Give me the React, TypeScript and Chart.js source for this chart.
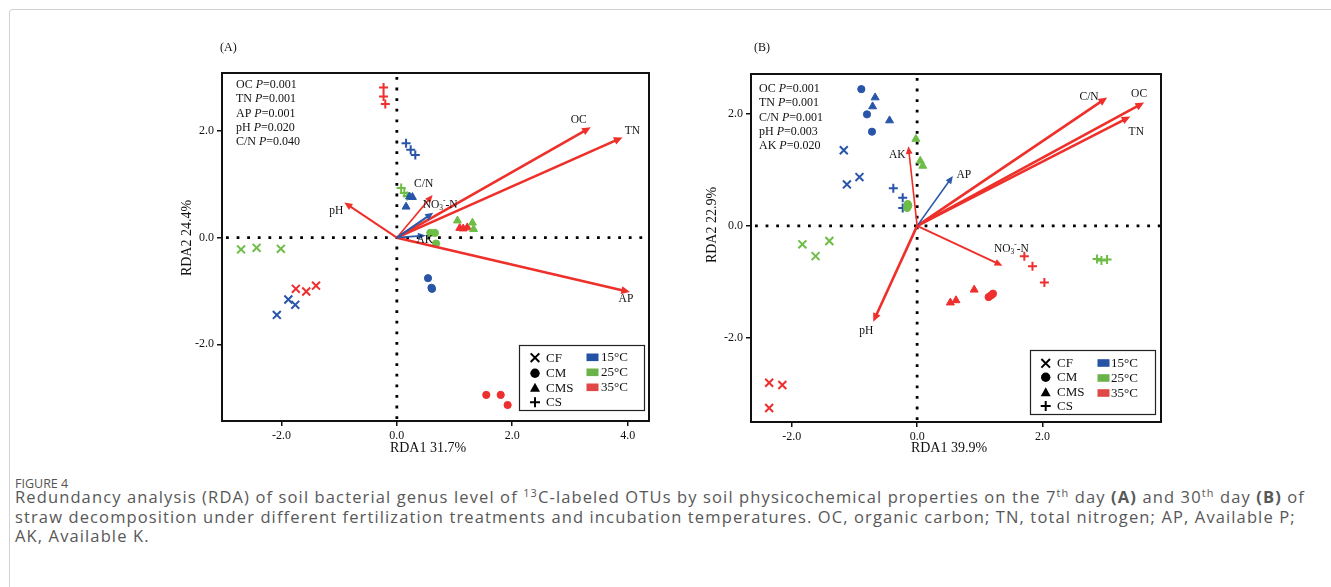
import React, { useEffect, useLayoutEffect, useRef, useState } from 'react';
import { Chart, registerables } from 'chart.js';
Chart.register(...registerables);

type Pt = [number, number];

// ---------- Panel A (7th day) sample scores ----------
const A_CF_15: Pt[] = [[-1.88, -1.16], [-1.76, -1.26], [-2.08, -1.45]];
const A_CF_25: Pt[] = [[-2.70, -0.22], [-2.43, -0.19], [-2.01, -0.21]];
const A_CF_35: Pt[] = [[-1.75, -0.96], [-1.57, -1.01], [-1.40, -0.90]];
const A_CM_15: Pt[] = [[0.54, -0.76], [0.61, -0.96], [0.60, -0.94]];
const A_CM_25: Pt[] = [[0.58, 0.09], [0.66, 0.09], [0.68, -0.11]];
const A_CM_35: Pt[] = [[1.55, -2.95], [1.80, -2.95], [1.92, -3.14]];
const A_CMS_15: Pt[] = [[0.22, 0.77], [0.27, 0.76], [0.16, 0.58]];
const A_CMS_25: Pt[] = [[1.05, 0.32], [1.31, 0.28], [1.33, 0.16]];
const A_CMS_35: Pt[] = [[1.09, 0.18], [1.22, 0.19], [1.15, 0.17]];
const A_CS_15: Pt[] = [[0.16, 1.77], [0.24, 1.65], [0.32, 1.55]];
const A_CS_25: Pt[] = [[0.075, 0.93], [0.13, 0.84], [0.18, 0.78]];
const A_CS_35: Pt[] = [[-0.23, 2.82], [-0.23, 2.65], [-0.20, 2.51]];

// ---------- Panel A environmental arrows ----------
const A_ARROW_NAMES = ['OC', 'TN', 'AP', 'pH', 'C/N', 'NO3-N', 'AK'];
const A_ARROW_X = [3.36, 3.91, 4.04, -0.91, 0.62, 0.63, 0.50];
const A_ARROW_Y = [2.07, 1.88, -1.02, 0.66, 0.80, 0.47, 0.04];
const A_P_NAMES = ['OC', 'TN', 'AP', 'pH', 'C/N'];
const A_P_VALUES = ['0.001', '0.001', '0.001', '0.020', '0.040'];
const A_X_TICKS = [-2, 0, 2, 4];
const A_Y_TICKS = [-2, 0, 2];

// ---------- Panel B (30th day) sample scores ----------
const B_CF_15: Pt[] = [[-1.17, 1.35], [-1.12, 0.74], [-0.92, 0.87]];
const B_CF_25: Pt[] = [[-1.83, -0.33], [-1.62, -0.54], [-1.40, -0.27]];
const B_CF_35: Pt[] = [[-2.36, -2.80], [-2.15, -2.84], [-2.36, -3.25]];
const B_CM_15: Pt[] = [[-0.89, 2.44], [-0.80, 1.99], [-0.72, 1.68]];
const B_CM_25: Pt[] = [[-0.15, 0.39], [-0.16, 0.32], [-0.14, 0.36]];
const B_CM_35: Pt[] = [[1.14, -1.27], [1.21, -1.21], [1.18, -1.24]];
const B_CMS_15: Pt[] = [[-0.67, 2.29], [-0.71, 2.13], [-0.44, 1.88]];
const B_CMS_25: Pt[] = [[-0.02, 1.55], [0.05, 1.16], [0.09, 1.07]];
const B_CMS_35: Pt[] = [[0.53, -1.37], [0.62, -1.33], [0.91, -1.14]];
const B_CS_15: Pt[] = [[-0.38, 0.67], [-0.23, 0.50], [-0.23, 0.32]];
const B_CS_25: Pt[] = [[2.87, -0.59], [2.94, -0.62], [3.03, -0.60]];
const B_CS_35: Pt[] = [[1.71, -0.54], [1.84, -0.72], [2.03, -1.01]];

// ---------- Panel B environmental arrows ----------
const B_ARROW_NAMES = ['C/N', 'OC', 'TN', 'AP', 'AK', 'NO3-N', 'pH'];
const B_ARROW_X = [3.03, 3.62, 3.40, 0.57, -0.14, 1.36, -0.70];
const B_ARROW_Y = [2.29, 2.20, 1.95, 0.89, 1.42, -0.71, -1.71];
const B_P_NAMES = ['OC', 'TN', 'C/N', 'pH', 'AK'];
const B_P_VALUES = ['0.001', '0.001', '0.001', '0.003', '0.020'];
const B_X_TICKS = [-2, 0, 2];
const B_Y_TICKS = [-2, 0, 2];

const TREATMENTS = ['CF', 'CM', 'CMS', 'CS'];
const TEMPS = ['15°C', '25°C', '35°C'];

// ---------- styles ----------
const SERIF = '"Liberation Serif", "Times New Roman", serif';
const TEMP_COLORS = ['#2855a8', '#6dbd46', '#ef2e2e'];
const PATCH_COLORS = ['#2452a5', '#6ab34a', '#e04848'];
const RED = '#ee2f2a';
const BLUE = '#2b58a8';
const SHAPE_STYLE: Record<string, { style: string; r: number; bw: number }> = {
  CF: { style: 'crossRot', r: 5.6, bw: 2 },
  CM: { style: 'circle', r: 3.6, bw: 1 },
  CMS: { style: 'triangle', r: 4.6, bw: 1 },
  CS: { style: 'cross', r: 4.5, bw: 2 },
};

const A_GROUPS: Pt[][][] = [
  [A_CF_15, A_CF_25, A_CF_35],
  [A_CM_15, A_CM_25, A_CM_35],
  [A_CMS_15, A_CMS_25, A_CMS_35],
  [A_CS_15, A_CS_25, A_CS_35],
];
const B_GROUPS: Pt[][][] = [
  [B_CF_15, B_CF_25, B_CF_35],
  [B_CM_15, B_CM_25, B_CM_35],
  [B_CMS_15, B_CMS_25, B_CMS_35],
  [B_CS_15, B_CS_25, B_CS_35],
];

type PanelCfg = {
  letter: string;
  left: number; top: number; w: number; h: number;
  yAxisW: number; xAxisH: number; padTop: number; padRight: number;
  xMin: number; xMax: number; yMin: number; yMax: number;
  xTicks: number[]; yTicks: number[];
  groups: Pt[][][];
  arrowNames: string[]; arrowX: number[]; arrowY: number[];
  arrowColors: string[]; arrowWidths: number[]; labelOffsets: [number, number][];
  pNames: string[]; pValues: string[]; pPos: [number, number];
  xTitle: string; yTitle: string; xTitlePos: [number, number]; yTitlePos: [number, number];
  letterPos: [number, number];
  legendBox: [number, number, number, number];
  legendRows: number[]; legendSymX: number; legendTextX: number;
  patchRows: number[]; patchX: [number, number]; patchTextX: number;
};

const PANEL_A: PanelCfg = {
  letter: '(A)',
  left: 170, top: 30, w: 490, h: 440,
  yAxisW: 52, xAxisH: 49, padTop: 43, padRight: 11,
  xMin: -3.03, xMax: 4.37, yMin: -3.44, yMax: 3.09,
  xTicks: A_X_TICKS, yTicks: A_Y_TICKS,
  groups: A_GROUPS,
  arrowNames: A_ARROW_NAMES, arrowX: A_ARROW_X, arrowY: A_ARROW_Y,
  arrowColors: [RED, RED, RED, RED, RED, BLUE, BLUE],
  arrowWidths: [2.6, 2.6, 2.6, 2, 1.6, 2, 1.8],
  labelOffsets: [[-12, -7], [10, -6], [-4, 7], [-8, 8], [-9, -11], [7, -8], [-1, 4]],
  pNames: A_P_NAMES, pValues: A_P_VALUES, pPos: [236, 85],
  xTitle: 'RDA1 31.7%', yTitle: 'RDA2 24.4%', xTitlePos: [428, 448], yTitlePos: [187, 238],
  letterPos: [220, 48],
  legendBox: [519.5, 345.5, 644.5, 410.5],
  legendRows: [357.7, 373.2, 387.7, 402.3], legendSymX: 535, legendTextX: 546,
  patchRows: [357.3, 372.3, 387.3], patchX: [586.5, 598.5], patchTextX: 601,
};

const PANEL_B: PanelCfg = {
  letter: '(B)',
  left: 700, top: 30, w: 475, h: 440,
  yAxisW: 51, xAxisH: 48, padTop: 44, padRight: 14,
  xMin: -2.65, xMax: 3.89, yMin: -3.5, yMax: 2.71,
  xTicks: B_X_TICKS, yTicks: B_Y_TICKS,
  groups: B_GROUPS,
  arrowNames: B_ARROW_NAMES, arrowX: B_ARROW_X, arrowY: B_ARROW_Y,
  arrowColors: [RED, RED, RED, BLUE, RED, RED, RED],
  arrowWidths: [2.6, 2.6, 2.6, 1.6, 1.6, 1.8, 2.6],
  labelOffsets: [[-18, -1], [-5, -9], [6, 15], [11, -1], [-11, 9], [9, -17], [-7, 9]],
  pNames: B_P_NAMES, pValues: B_P_VALUES, pPos: [759, 89],
  xTitle: 'RDA1 39.9%', yTitle: 'RDA2 22.9%', xTitlePos: [949, 448], yTitlePos: [712, 225],
  letterPos: [754, 48],
  legendBox: [1030.5, 350.5, 1155.5, 414.5],
  legendRows: [363.3, 377.3, 392.3, 406], legendSymX: 1045.7, legendTextX: 1057,
  patchRows: [363, 378, 393], patchX: [1097.5, 1109.5], patchTextX: 1111,
};

function drawArrow(ctx: CanvasRenderingContext2D, x1: number, y1: number, x2: number, y2: number, color: string, lw: number) {
  const ang = Math.atan2(y2 - y1, x2 - x1);
  const hl = 6 + lw;
  const hw = 2.4 + lw * 0.6;
  const c = Math.cos(ang), s = Math.sin(ang);
  ctx.strokeStyle = color;
  ctx.lineWidth = lw;
  ctx.lineCap = 'butt';
  ctx.beginPath();
  ctx.moveTo(x1, y1);
  ctx.lineTo(x2 - c * hl * 0.7, y2 - s * hl * 0.7);
  ctx.stroke();
  ctx.fillStyle = color;
  ctx.beginPath();
  ctx.moveTo(x2, y2);
  ctx.lineTo(x2 - c * hl + s * hw, y2 - s * hl - c * hw);
  ctx.lineTo(x2 - c * hl - s * hw, y2 - s * hl + c * hw);
  ctx.closePath();
  ctx.fill();
}

function drawLabel(ctx: CanvasRenderingContext2D, text: string, cx: number, cy: number) {
  const fs = 11.5;
  ctx.fillStyle = '#111';
  ctx.textBaseline = 'middle';
  ctx.textAlign = 'left';
  if (text === 'NO3-N') {
    const big = `${fs}px ${SERIF}`;
    const small = `${fs * 0.65}px ${SERIF}`;
    ctx.font = big; const w1 = ctx.measureText('NO').width; const w4 = ctx.measureText('-N').width;
    ctx.font = small; const w2 = ctx.measureText('3').width; const w3 = ctx.measureText('-').width;
    let x = cx - (w1 + w2 + w3 + w4) / 2;
    ctx.font = big; ctx.fillText('NO', x, cy); x += w1;
    ctx.font = small; ctx.fillText('3', x, cy + 3.5); x += w2;
    ctx.fillText('-', x, cy - 4); x += w3;
    ctx.font = big; ctx.fillText('-N', x, cy);
    return;
  }
  ctx.font = `${fs}px ${SERIF}`;
  ctx.textAlign = 'center';
  ctx.fillText(text, cx, cy);
}

function drawSymbol(ctx: CanvasRenderingContext2D, kind: string, x: number, y: number) {
  ctx.fillStyle = '#000';
  ctx.strokeStyle = '#000';
  ctx.lineWidth = 2;
  ctx.beginPath();
  if (kind === 'CF') {
    const d = 4.3;
    ctx.moveTo(x - d, y - d); ctx.lineTo(x + d, y + d);
    ctx.moveTo(x - d, y + d); ctx.lineTo(x + d, y - d);
    ctx.stroke();
  } else if (kind === 'CM') {
    ctx.arc(x, y, 4.7, 0, Math.PI * 2); ctx.fill();
  } else if (kind === 'CMS') {
    ctx.moveTo(x, y - 5); ctx.lineTo(x + 5, y + 4); ctx.lineTo(x - 5, y + 4); ctx.closePath(); ctx.fill();
  } else {
    const d = 5;
    ctx.moveTo(x - d, y); ctx.lineTo(x + d, y);
    ctx.moveTo(x, y - d); ctx.lineTo(x, y + d);
    ctx.stroke();
  }
}

function makeOverlay(cfg: PanelCfg) {
  const ox = cfg.left, oy = cfg.top;
  return {
    id: 'rdaOverlay',
    beforeDatasetsDraw(chart: any) {
      const { ctx, chartArea: ca, scales } = chart;
      const x0 = scales.x.getPixelForValue(0);
      const y0 = scales.y.getPixelForValue(0);
      ctx.save();
      ctx.strokeStyle = '#000';
      ctx.lineWidth = 2.8;
      ctx.setLineDash([2.8, 7.8]);
      ctx.beginPath();
      ctx.moveTo(ca.left + 4, y0); ctx.lineTo(ca.right, y0);
      ctx.moveTo(x0, ca.top + 4); ctx.lineTo(x0, ca.bottom);
      ctx.stroke();
      ctx.restore();
    },
    afterDatasetsDraw(chart: any) {
      const { ctx, chartArea: ca, scales } = chart;
      const xs = scales.x, ys = scales.y;
      const x0 = xs.getPixelForValue(0), y0 = ys.getPixelForValue(0);
      ctx.save();
      cfg.arrowNames.forEach((name, i) => {
        const tx = xs.getPixelForValue(cfg.arrowX[i]);
        const ty = ys.getPixelForValue(cfg.arrowY[i]);
        drawArrow(ctx, x0, y0, tx, ty, cfg.arrowColors[i], cfg.arrowWidths[i]);
      });
      cfg.arrowNames.forEach((name, i) => {
        const tx = xs.getPixelForValue(cfg.arrowX[i]);
        const ty = ys.getPixelForValue(cfg.arrowY[i]);
        const [dx, dy] = cfg.labelOffsets[i];
        drawLabel(ctx, name, tx + dx, ty + dy);
      });
      ctx.strokeStyle = '#111';
      ctx.lineWidth = 2;
      ctx.strokeRect(ca.left, ca.top, ca.right - ca.left, ca.bottom - ca.top);
      ctx.fillStyle = '#111';
      ctx.textBaseline = 'middle';
      ctx.textAlign = 'left';
      cfg.pNames.forEach((n, i) => {
        let x = cfg.pPos[0] - ox;
        const y = cfg.pPos[1] - oy + i * 14.3;
        ctx.font = `12px ${SERIF}`;
        ctx.fillText(n + ' ', x, y); x += ctx.measureText(n + ' ').width;
        ctx.font = `italic 12px ${SERIF}`;
        ctx.fillText('P', x, y); x += ctx.measureText('P').width;
        ctx.font = `12px ${SERIF}`;
        ctx.fillText('=' + cfg.pValues[i], x, y);
      });
      ctx.font = `12px ${SERIF}`;
      ctx.fillText(cfg.letter, cfg.letterPos[0] - ox, cfg.letterPos[1] - oy);
      ctx.font = `14px ${SERIF}`;
      ctx.textAlign = 'center';
      ctx.fillText(cfg.xTitle, cfg.xTitlePos[0] - ox, cfg.xTitlePos[1] - oy);
      ctx.save();
      ctx.translate(cfg.yTitlePos[0] - ox, cfg.yTitlePos[1] - oy);
      ctx.rotate(-Math.PI / 2);
      ctx.fillText(cfg.yTitle, 0, 0);
      ctx.restore();
      const [lx1, ly1, lx2, ly2] = cfg.legendBox;
      ctx.fillStyle = '#fff';
      ctx.fillRect(lx1 - ox, ly1 - oy, lx2 - lx1, ly2 - ly1);
      ctx.strokeStyle = '#222';
      ctx.lineWidth = 1.2;
      ctx.strokeRect(lx1 - ox, ly1 - oy, lx2 - lx1, ly2 - ly1);
      ctx.textAlign = 'left';
      ctx.font = `13px ${SERIF}`;
      TREATMENTS.forEach((t, i) => {
        drawSymbol(ctx, t, cfg.legendSymX - ox, cfg.legendRows[i] - oy);
        ctx.fillStyle = '#111';
        ctx.fillText(t, cfg.legendTextX - ox, cfg.legendRows[i] - oy + 0.5);
      });
      TEMPS.forEach((t, i) => {
        ctx.fillStyle = PATCH_COLORS[i];
        ctx.fillRect(cfg.patchX[0] - ox, cfg.patchRows[i] - oy - 3.8, cfg.patchX[1] - cfg.patchX[0], 7.6);
        ctx.fillStyle = '#111';
        ctx.fillText(t, cfg.patchTextX - ox, cfg.patchRows[i] - oy + 0.5);
      });
      ctx.restore();
    },
  };
}

function Panel({ cfg }: { cfg: PanelCfg }) {
  const ref = useRef<HTMLCanvasElement>(null);
  useEffect(() => {
    const datasets: any[] = [];
    cfg.groups.forEach((byTemp, ti) => {
      const sh = SHAPE_STYLE[TREATMENTS[ti]];
      byTemp.forEach((pts, ci) => {
        datasets.push({
          label: `${TREATMENTS[ti]} ${TEMPS[ci]}`,
          data: pts.map(([x, y]) => ({ x, y })),
          pointStyle: sh.style,
          pointRadius: sh.r,
          pointHoverRadius: sh.r,
          pointBorderWidth: sh.bw,
          backgroundColor: TEMP_COLORS[ci],
          borderColor: TEMP_COLORS[ci],
          showLine: false,
        });
      });
    });
    const tickFont = { family: SERIF, size: 12 };
    const chart = new Chart(ref.current!, {
      type: 'scatter',
      data: { datasets },
      plugins: [makeOverlay(cfg) as any],
      options: {
        animation: false,
        responsive: false,
        devicePixelRatio: 1,
        layout: { padding: { top: cfg.padTop, right: cfg.padRight, left: 0, bottom: 0 } },
        plugins: { legend: { display: false }, tooltip: { enabled: false } },
        scales: {
          x: {
            type: 'linear', min: cfg.xMin, max: cfg.xMax,
            afterBuildTicks: (s: any) => { s.ticks = cfg.xTicks.map((v) => ({ value: v })); },
            afterFit: (s: any) => { s.height = cfg.xAxisH; },
            ticks: { callback: (v: any) => Number(v).toFixed(1), font: tickFont, color: '#111', padding: 3, maxRotation: 0, autoSkip: false },
            grid: { drawOnChartArea: false, drawTicks: true, tickLength: 5, color: '#111', lineWidth: 1.5 },
            border: { display: false },
          },
          y: {
            type: 'linear', min: cfg.yMin, max: cfg.yMax,
            afterBuildTicks: (s: any) => { s.ticks = cfg.yTicks.map((v) => ({ value: v })); },
            afterFit: (s: any) => { s.width = cfg.yAxisW; },
            ticks: { callback: (v: any) => Number(v).toFixed(1), font: tickFont, color: '#111', padding: 3, autoSkip: false },
            grid: { drawOnChartArea: false, drawTicks: true, tickLength: 5, color: '#111', lineWidth: 1.5 },
            border: { display: false },
          },
        },
      } as any,
    });
    return () => chart.destroy();
  }, [cfg]);
  return (
    <canvas
      ref={ref}
      width={cfg.w}
      height={cfg.h}
      style={{ position: 'absolute', left: cfg.left, top: cfg.top, width: cfg.w, height: cfg.h }}
    />
  );
}

const CAPTION_FONT = '"Open Sans", Lato, sans-serif';
const LINE1_TARGET_WIDTH = 1290;

export default function App() {
  const line1 = useRef<HTMLSpanElement>(null);
  const [ls, setLs] = useState(0);
  useLayoutEffect(() => {
    const el = line1.current;
    if (!el) return;
    const w = el.getBoundingClientRect().width;
    const n = (el.textContent || '').length;
    setLs((LINE1_TARGET_WIDTH - w) / n);
  }, []);
  const cap: React.CSSProperties = {
    position: 'absolute', left: 15, top: 487, fontFamily: CAPTION_FONT,
    fontSize: 16.5, lineHeight: '19.7px', color: '#585858', whiteSpace: 'nowrap', letterSpacing: ls,
  };
  const sup: React.CSSProperties = { fontSize: '0.66em', verticalAlign: 'super', lineHeight: 0 };
  return (
    <div style={{ position: 'absolute', left: 0, top: 0, width: 1331, height: 587, overflow: 'hidden', background: '#fff' }}>
      <div style={{ position: 'absolute', left: 9, top: 9, width: 1400, height: 700, border: '1px solid #d2d2d2', borderRadius: 3 }} />
      <Panel cfg={PANEL_A} />
      <Panel cfg={PANEL_B} />
      <div style={{ position: 'absolute', left: 15, top: 476, fontFamily: CAPTION_FONT, fontSize: 12.5, lineHeight: '16px', color: '#555' }}>
        FIGURE 4
      </div>
      <div style={cap}>
        <div>
          <span ref={line1}>
            Redundancy analysis (RDA) of soil bacterial genus level of <span style={sup}>13</span>C-labeled OTUs by soil physicochemical properties on the 7<span style={sup}>th</span> day <b>(A)</b> and 30<span style={sup}>th</span> day <b>(B)</b> of
          </span>
        </div>
        <div>
          straw decomposition under different fertilization treatments and incubation temperatures. OC, organic carbon; TN, total nitrogen; AP, Available P;
        </div>
        <div>AK, Available K.</div>
      </div>
    </div>
  );
}
